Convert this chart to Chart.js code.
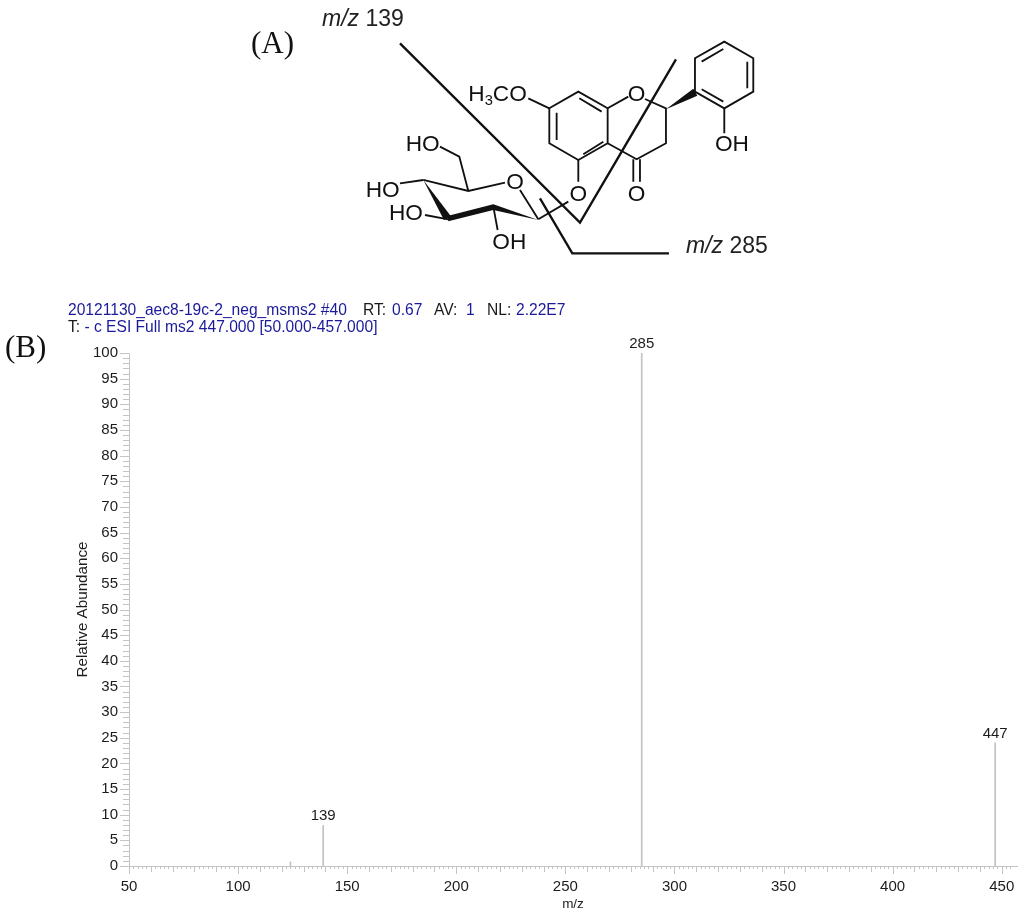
<!DOCTYPE html>
<html>
<head>
<meta charset="utf-8">
<title>MS2 spectrum</title>
<script src="https://cdn.jsdelivr.net/npm/chart.js@4/dist/chart.umd.min.js"></script>
<style>
    html, body { margin: 0; padding: 0; background: #fff; }
    #page { position: relative; width: 1024px; height: 916px; overflow: hidden; }
    #page canvas { position: absolute; left: 0; top: 0; }
    #structure { position: absolute; left: 0; top: 0; }
    .panel { position: absolute; font-family: "Liberation Serif", serif; font-size: 31px; color: #111; line-height: 36px; }
    .hdr { position: absolute; font-family: "Liberation Sans", sans-serif; font-size: 15.6px; line-height: 17px; white-space: pre; color: #1a1a1a; }
    .hdr b { font-weight: normal; color: #1a1a9a; }
</style>
</head>
<body>
<div id="page">
    <canvas id="spectrum" width="1024" height="916"></canvas>

    <div class="panel" style="left:251px;top:25px">(A)</div>
    <div class="panel" style="left:5px;top:329px">(B)</div>
    <div class="hdr" style="left:68px;top:301px"><b>20121130_aec8-19c-2_neg_msms2 #40</b></div>
    <div class="hdr" style="left:363px;top:301px">RT:</div>
    <div class="hdr" style="left:392px;top:301px"><b>0.67</b></div>
    <div class="hdr" style="left:434px;top:301px">AV:</div>
    <div class="hdr" style="left:466px;top:301px"><b>1</b></div>
    <div class="hdr" style="left:487px;top:301px">NL:</div>
    <div class="hdr" style="left:516px;top:301px"><b>2.22E7</b></div>
    <div class="hdr" style="left:68px;top:318px">T: <b>- c ESI Full ms2 447.000 [50.000-457.000]</b></div>

    <!-- molecule drawing, not chart data -->
    <svg id="structure" width="1024" height="290" viewBox="0 0 1024 290">
        <g transform="translate(340,0) scale(0.3333)" fill="none" stroke="#111" stroke-width="5.5" stroke-linejoin="miter">
            <path d="M180 130 L720 668 L1008 178" stroke-width="7"/>
            <path d="M600 595 L697 760 L987 760" stroke-width="7"/>
            <path d="M628 325 L715 275 L803 325 L803 430 L715 480 L628 430 Z"/>
            <path d="M650 338 L650 420 M718 295 L785 335 M730 463 L790 425"/>
            <path d="M803 325 L865 290 M915 297 L978 325 L978 430 L890 478 L803 430"/>
            <path d="M880 478 L880 545 M900 478 L900 545"/>
            <path d="M1065 275 L1065 175 L1153 125 L1240 175 L1240 275 L1153 325 Z"/>
            <path d="M1085 185 L1150 147 M1222 185 L1222 265 M1085 268 L1150 305"/>
            <path d="M1153 325 L1153 400 M565 295 L628 325 M715 480 L715 545 M685 605 L595 658"/>
            <path d="M595 658 L540 570 M495 548 L385 573 L250 540 M385 573 L358 470 L300 440"/>
            <path d="M180 550 L250 540 M255 645 L325 658 M460 620 L473 690"/>
            <g fill="#111" stroke="none">
                <polygon points="978,328 1060,266 1072,287"/>
                <polygon points="595,660 460,613 322,648 325,664 460,630"/>
                <polygon points="250,540 312,660 334,650"/>
            </g>
            <g fill="#111" stroke="none" font-family="Liberation Sans, sans-serif" font-size="68" text-anchor="middle">
                <text x="890" y="304">O</text>
                <text x="890" y="604">O</text>
                <text x="715" y="604">O</text>
                <text x="525" y="566">O</text>
                <text x="1176" y="454">OH</text>
                <text x="248" y="452">HO</text>
                <text x="128" y="592">HO</text>
                <text x="198" y="659">HO</text>
                <text x="508" y="748">OH</text>
                <text x="385" y="304" text-anchor="start">H<tspan font-size="44" dy="12">3</tspan><tspan dy="-12">CO</tspan></text>
            </g>
        </g>
        <g fill="#222" font-family="Liberation Sans, sans-serif" font-size="23">
            <text x="322" y="26"><tspan font-style="italic">m/z</tspan> 139</text>
            <text x="686" y="253"><tspan font-style="italic">m/z</tspan> 285</text>
        </g>
    </svg>
</div>

<script>
const peakMz = [124, 139, 285, 447];
const peakAbundance = [0.8, 7.9, 100, 24];
const peakLabels = ["", "139", "285", "447"];
const xLabelStep = 50;
const yLabelStep = 5;

const AXIS_GREY = "#c4c4c4";
const TEXT_COL = "#1c1c1c";
const FONT = '"Liberation Sans", sans-serif';

// chart.js has one tickLength per scale, this spectrum needs three lengths
const spectrumTicks = {
    id: "spectrumTicks",
    afterDraw(chart) {
        const { ctx, scales: { x, y } } = chart;
        ctx.save();
        ctx.strokeStyle = AXIS_GREY;
        ctx.lineWidth = 1;
        ctx.beginPath();
        x.ticks.forEach(t => {
            if (t.value % 2 !== 0) return;
            const px = Math.round(x.getPixelForValue(t.value)) + 0.5;
            const len = t.value % xLabelStep === 0 ? 8 : t.value % 10 === 0 ? 6 : 3;
            ctx.moveTo(px, y.bottom);
            ctx.lineTo(px, y.bottom + len);
        });
        y.ticks.forEach(t => {
            const py = Math.round(y.getPixelForValue(t.value)) + 0.5;
            const len = t.value % yLabelStep === 0 ? 9 : 6;
            ctx.moveTo(x.left, py);
            ctx.lineTo(x.left - len, py);
        });
        ctx.stroke();
        ctx.restore();
    }
};

// m/z labels sit on top of the peaks
const peakLabelPlugin = {
    id: "peakLabels",
    afterDatasetsDraw(chart) {
        const { ctx, scales: { x, y } } = chart;
        ctx.save();
        ctx.fillStyle = TEXT_COL;
        ctx.font = "15px " + FONT;
        ctx.textAlign = "center";
        ctx.textBaseline = "bottom";
        peakLabels.forEach((label, i) => {
            if (!label) return;
            ctx.fillText(label, x.getPixelForValue(peakMz[i]), y.getPixelForValue(peakAbundance[i]) - 2);
        });
        ctx.restore();
    }
};

new Chart(document.getElementById("spectrum"), {
    type: "bar",
    data: {
        datasets: [{
            label: "Relative Abundance",
            data: peakMz.map((mz, i) => ({ x: mz, y: peakAbundance[i] })),
            backgroundColor: "#c2c2c2",
            barThickness: 1,
            borderWidth: 0
        }]
    },
    plugins: [spectrumTicks, peakLabelPlugin],
    options: {
        responsive: false,
        animation: false,
        layout: { padding: { left: 74, top: 353, right: 7, bottom: 0 } },
        plugins: { legend: { display: false }, tooltip: { enabled: false } },
        scales: {
            x: {
                type: "linear",
                offset: false,
                min: 50,
                max: 457,
                afterFit(scale) { scale.height = 50; },
                grid: { display: false },
                border: { color: AXIS_GREY },
                ticks: {
                    stepSize: 2,
                    autoSkip: false,
                    maxRotation: 0,
                    padding: 4,
                    color: TEXT_COL,
                    font: { family: FONT, size: 15 },
                    callback: v => (v % xLabelStep === 0 ? String(v) : "")
                },
                title: {
                    display: true,
                    text: "m/z",
                    color: TEXT_COL,
                    font: { family: FONT, size: 13.5 },
                    padding: { top: 0, bottom: 4 }
                }
            },
            y: {
                min: 0,
                max: 100,
                afterFit(scale) { scale.width = 55; },
                grid: { display: false },
                border: { color: AXIS_GREY },
                ticks: {
                    stepSize: 1,
                    autoSkip: false,
                    padding: 3,
                    color: TEXT_COL,
                    font: { family: FONT, size: 15 },
                    callback: v => (v % yLabelStep === 0 ? String(v) : "")
                },
                title: {
                    display: true,
                    text: "Relative Abundance",
                    color: TEXT_COL,
                    font: { family: FONT, size: 15.2 },
                    padding: 0
                }
            }
        }
    }
});
</script>
</body>
</html>
